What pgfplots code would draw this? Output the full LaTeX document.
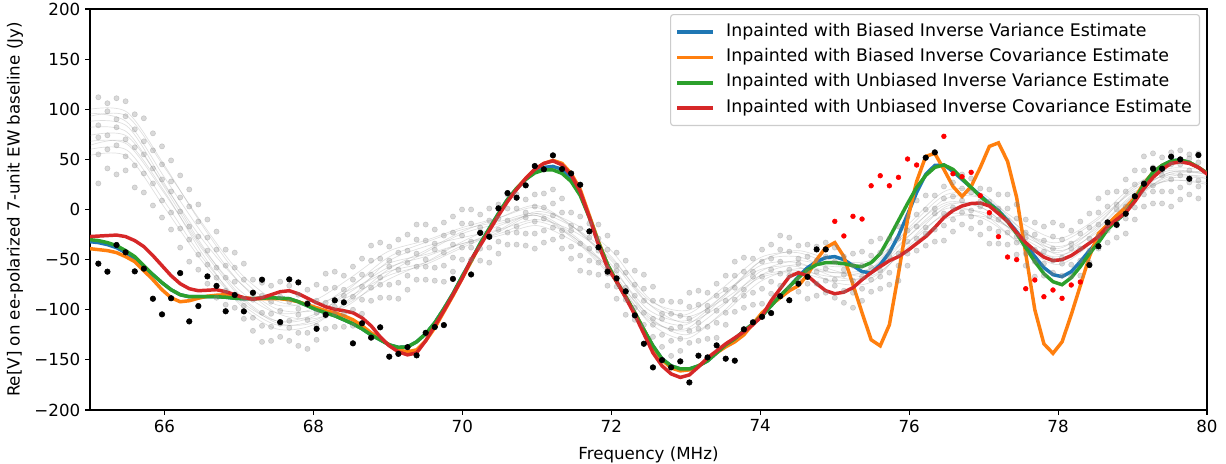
\documentclass[border=0pt]{standalone}
\usepackage{fontspec}
\setmainfont{DejaVu Sans}
\usepackage{pgfplots}
\usepackage{pgfplotstable}
\pgfplotsset{compat=1.18}

\definecolor{tabblue}{HTML}{1F77B4}
\definecolor{taborange}{HTML}{FF7F0E}
\definecolor{tabgreen}{HTML}{2CA02C}
\definecolor{tabred}{HTML}{D62728}
\definecolor{legframe}{HTML}{CCCCCC}

% Per-channel data: measured visibilities (dat), flagged channels (flag),
% the four inpainted solutions and five sets of model draws (g1..g5)
\pgfplotstableread{
f dat flag biv bic uiv uic g1 g2 g3 g4 g5
64.990 -17 nan -32 -39 -30 -27 110 96 80 58 48
65.112 -54 nan -33 -40 -31 -26.5 112 84 72 55 26
65.234 -62 nan -35 -41 -33 -26 106 98 74 60 41
65.356 -35.4 nan -38 -43 -36 -25.5 111 90 82 64 35
65.478 -42.7 nan -43 -47 -41 -27 108 93 70 53 39
65.601 -61.7 nan -49 -52 -47 -31 95 80 62 44 22
65.723 -59 nan -57 -61 -56 -37 91 68 55 36 17
65.845 -89 nan -65 -70 -65 -46 76 59 41 26 4
65.967 -104.6 nan -73 -80 -73 -56 63 45 30 9 -8
66.089 -88.5 nan -80 -88 -80 -66 49 28 18 -3 -20
66.211 -63.4 nan -85 -92 -85 -74 34 12 -2 -19 -38
66.333 -111.6 nan -87 -91 -87 -79 20 3 -17 -30 -52
66.455 -96.3 nan -87 -88.5 -87 -81 5 -12 -27 -45 -60
66.577 -66.7 nan -87 -86.5 -87 -80.5 -10 -28 -41 -55 -74
66.699 -76.2 nan -87 -85.5 -87 -80 -22 -40 -58 -68 -88
66.822 -101.5 nan -87.5 -85 -87.5 -82 -40 -56 -68 -81 -95
66.944 -85.3 nan -88.5 -86.5 -88.5 -85 -58 -72 -85 -98 -43
67.066 -101.6 nan -89 -88 -89 -88 -54 -70 -89 -109 -96
67.188 -83 nan -89 -89 -89 -89.5 -84 -108 -70 -121 -90
67.310 -70 nan -88.5 -89 -88.5 -88 -73 -103 -86 -116 -132
67.432 nan nan -88 -89 -88 -85 -76 -92 -104 -117 -131
67.554 -112.3 nan -88.5 -89 -88.5 -82 -87 -101 -114 -127 -72
67.676 -69.7 nan -89 -90 -89 -81 -76 -92 -111 -131 -118
67.798 -72.7 nan -92 -92 -92 -84 -99 -123 -85 -136 -105
67.920 -94 nan -96 -95 -96 -88.5 -80 -110 -93 -123 -139
68.043 -119 nan -100 -98 -100 -93 -75 -91 -103 -116 -130
68.165 -105 nan -103 -101 -103 -97 -79 -93 -106 -119 -64
68.287 -90.6 nan -106 -103 -106 -99.5 -62 -78 -97 -117 -104
68.409 -92.6 nan -110 -106 -110 -101 -80 -104 -66 -117 -86
68.531 -133.5 nan -114 -110 -114 -103 -57 -87 -70 -100 -116
68.653 -113.5 nan -119 -116 -119 -108 -49 -65 -77 -90 -104
68.775 -127.8 nan -125 -123 -125 -116 -51 -65 -78 -91 -36
68.897 -117.5 nan -130 -129 -130 -127 -33 -49 -68 -88 -75
69.019 -146.8 nan -135 -135 -135 -136 -51 -75 -37 -88 -57
69.141 -144 nan -137.5 -140 -137.5 -142 -30 -60 -43 -73 -89
69.264 -137.3 nan -137 -142 -137 -145 -25 -41 -53 -66 -80
69.386 -145.5 nan -132 -140 -132 -143 -30 -44 -57 -70 -15
69.508 -123 nan -124 -131 -124 -131 -15 -31 -50 -70 -57
69.630 -117.2 nan -113 -118 -113 -116 -34 -58 -20 -71 -40
69.752 -115.3 nan -99 -102 -99 -101 -13 -43 -26 -56 -72
69.874 -69.2 nan -84 -86 -84 -85 -7 -23 -35 -48 -62
69.996 nan nan -67 -69 -67 -69 -14 -26 -38 -50 0
70.118 -64.8 nan -51 -52 -51 -50 0 -14 -32 -50 -38
70.240 -23.3 nan -34 -35 -34 -36 -18 -39 -5 -51 -23
70.362 -27.2 nan -19 -20 -19 -21 1 -26 -11 -38 -53
70.485 1.2 nan -4 -5 -4 -6 5 -9 -20 -32 -44
70.607 16.4 nan 10 9 10 8 1 -11 -23 -35 15
70.729 11.8 nan 21 21 21 20 15 1 -17 -35 -23
70.851 24.1 nan 30 31 30 31 -3 -24 10 -36 -8
70.973 43.4 nan 38 40 36.5 40 15 -12 3 -24 -39
71.095 40.1 nan 42 46 39.5 46 16 2 -9 -21 -33
71.217 54 nan 43 49 39.5 48.5 6 -6 -18 -30 20
71.339 40.4 nan 40 46 36 44.5 11 -3 -21 -39 -27
71.461 36 nan 31 36 28 34.5 -16 -37 -3 -49 -21
71.583 24.7 nan 16 20 14 18 -7 -34 -19 -46 -61
71.706 -21.8 nan -7 -6 -8 -8 -14 -28 -39 -51 -63
71.828 -37.7 nan -33 -32 -33 -35 -29 -41 -53 -65 -15
71.950 -62 nan -55 -55 -55 -58 -26 -40 -58 -76 -64
72.072 -68.7 nan -72 -72 -72 -72 -56 -77 -43 -89 -61
72.194 -81.6 nan -87 -87 -87 -88 -51 -78 -63 -90 -105
72.316 -105.6 nan -103 -103 -103 -105 -61 -75 -86 -98 -110
72.438 -133.9 nan -120 -120 -120 -124 -79 -91 -103 -115 -65
72.560 -157.5 nan -136 -137 -136 -143 -77 -91 -109 -127 -115
72.682 -150.2 nan -149 -150 -149 -156 -104 -125 -91 -137 -109
72.804 -157.5 nan -156 -158 -156 -164 -92 -119 -104 -131 -146
72.927 -151.5 nan -159 -161 -159 -167.5 -92 -106 -117 -129 -141
73.049 -172.5 nan -159 -160 -159 -165 -97 -109 -121 -133 -83
73.171 -145.8 nan -156 -156 -156 -157 -81 -95 -113 -131 -119
73.293 -147.5 nan -151 -150 -151 -148 -96 -117 -83 -129 -101
73.415 -135.5 nan -143 -143 -143 -141 -74 -101 -86 -113 -128
73.537 -148.8 nan -135 -137 -135 -134 -66 -80 -91 -103 -115
73.659 -150.8 nan -129 -132 -129 -128 -66 -78 -90 -102 -52
73.781 -119.5 nan -121 -125 -121 -122 -48 -62 -80 -98 -86
73.903 -112.5 nan -114 -114 -114 -115 -62 -83 -49 -95 -67
74.025 -107 nan -106 -103 -106 -106 -40 -67 -52 -79 -94
74.147 -103.3 nan -96 -95 -96 -91 -35 -49 -60 -72 -84
74.269 -86.5 nan -86 -88 -86 -79 -40 -52 -64 -76 -26
74.391 -90.5 nan -77 -81 -77 -67 -28 -42 -60 -78 -66
74.514 -74 nan -67 -76 -68 -63 -49 -70 -36 -82 -54
74.636 -67.2 nan -58 -65 -60 -66 -35 -62 -47 -74 -89
74.758 -39.8 nan -52 -50 -55 -74 -37 -51 -62 -74 -86
74.880 -39.8 nan -48 -38 -53 -81 -47 -59 -71 -83 -33
75.002 nan -11.8 -47 -33 -53 -84 -38 -52 -70 -88 -76
75.124 nan -26.4 -50 -47 -54 -82.5 -60 -81 -47 -93 -65
75.246 nan -6.8 -56 -75 -56 -78 -44 -71 -56 -83 -98
75.368 nan -9.5 -62 -103 -57 -70 -42 -56 -67 -79 -91
75.490 nan 23.7 -63 -130 -53 -63 -46 -58 -70 -82 -32
75.612 nan 33.7 -55 -136 -44 -57 -29 -43 -61 -79 -67
75.735 nan 23.7 -43 -115 -28 -51 -42 -63 -29 -75 -47
75.857 nan 32.1 -26 -64 -11 -47 -17 -44 -29 -56 -71
75.979 nan 50.4 -5 -10 6 -41 -7 -21 -32 -44 -56
76.101 nan 44.4 17 28 22 -34 -5 -17 -29 -41 9
76.223 51.7 nan 35 53 34 -27 14 0 -18 -36 -24
76.345 57 nan 44 56 42 -18 1 -20 14 -32 -4
76.467 nan 73 44.5 40 44.5 -8 23 -4 11 -16 -31
76.589 nan 35.7 38 23 40 -1 27 13 2 -10 -22
76.711 nan 32.7 30 13 31 3.5 21 9 -3 -15 35
76.833 nan 37.1 22 23 22 6 31 17 -1 -19 -7
76.956 nan 13.8 14 42 13 6.5 8 -13 21 -25 3
77.078 nan -3.2 6 63 5.5 3.5 20 -7 8 -19 -34
77.200 nan -27.1 -1 66.5 -2 -4 15 1 -10 -22 -34
77.322 nan -47.4 -11 48 -12 -12 1 -11 -23 -35 15
77.444 nan -50 -22 12 -24 -23 5 -9 -27 -45 -33
77.566 nan -79 -35 -44 -38 -33 -23 -44 -10 -56 -28
77.688 nan -70.3 -47 -100 -52 -41 -13 -40 -25 -52 -67
77.810 nan -87 -58 -134 -64 -47.5 -17 -31 -42 -54 -66
77.932 nan -80.3 -65 -143.5 -72 -51 -27 -39 -51 -63 -13
78.054 nan -88.6 -67 -132 -75 -50 -16 -30 -48 -66 -54
78.177 nan -75.3 -62 -105 -68 -46 -34 -55 -21 -67 -39
78.299 nan -72.3 -52 -76 -57 -40 -12 -39 -24 -51 -66
78.421 -55.4 nan -41 -47 -44 -33.5 -4 -18 -29 -41 -53
78.543 -36.7 nan -31 -24 -33 -27 -3 -15 -27 -39 11
78.665 -12.8 nan -19 -15 -20 -17 17 3 -15 -33 -21
78.787 -15.2 nan -11 -6 -11 -10 5 -16 18 -28 0
78.909 -4.2 nan -3 2 -3 -3 30 3 18 -9 -24
79.031 13.2 nan 10 12 10 8 39 25 14 2 -10
79.153 25.7 nan 25 26 25 21 39 27 15 3 53
79.275 40.7 nan 37 37 37 32 56 42 24 6 18
79.397 40.7 nan 44 44 44 40 39 18 52 6 34
79.519 52.7 nan 48.5 48 48.5 46 57 30 45 18 3
79.641 50 nan 49.5 49 49.5 47.5 59 45 34 22 10
79.763 30.7 nan 47 47 47 46 51 39 27 15 55
79.885 54.3 nan 42 42 42 42 56 47 29 11 23
80.007 46.7 nan 36 36 36 35 39 18 52 6 34
}\chan

% Smooth model curves for the other baselines, sampled every 0.5 MHz
\pgfplotstableread{
f c1 c2 c3 c4 c5 c6 c7 c8 c9 c10
65.0 100 93 88 82 74 68 60 54 96 64
65.5 97 93 83 77 73 65 59 53 87 67
66.0 44 42 26 22 24 16 8 2 32 18
66.5 -15 -13 -35 -37 -29 -39 -47 -51 -23 -43
67.0 -66 -62 -84 -80 -72 -86 -90 -92 -72 -94
67.5 -95 -91 -111 -103 -99 -113 -111 -115 -103 -119
68.0 -91 -95 -107 -99 -101 -113 -105 -111 -109 -115
68.5 -68 -80 -78 -76 -86 -90 -82 -92 -94 -88
69.0 -42 -62 -48 -54 -66 -60 -58 -70 -64 -52
69.5 -31 -53 -33 -45 -55 -41 -47 -53 -43 -37
70.0 -18 -36 -20 -34 -38 -22 -34 -32 -24 -28
70.5 -8 -20 -12 -26 -22 -8 -24 -16 -14 -20
71.0 2 -2 -4 -16 -4 4 -12 -6 -6 -10
71.5 -18 -14 -26 -32 -18 -18 -28 -28 -30 -22
72.0 -51 -41 -61 -59 -47 -55 -63 -65 -67 -49
72.5 -94 -88 -108 -100 -94 -106 -112 -104 -110 -90
73.0 -105 -107 -121 -111 -113 -125 -129 -115 -119 -101
73.5 -78 -90 -96 -86 -94 -104 -102 -86 -88 -82
74.0 -48 -66 -62 -56 -68 -72 -66 -52 -52 -60
74.5 -43 -61 -51 -53 -63 -59 -55 -47 -41 -57
75.0 -55 -67 -57 -67 -71 -63 -63 -61 -51 -73
75.5 -54 -58 -52 -68 -64 -58 -62 -66 -50 -72
76.0 -22 -18 -20 -36 -26 -26 -32 -38 -14 -32
76.5 11 15 7 -3 5 1 -5 -9 19 3
77.0 11 11 1 -3 1 -5 -9 -7 15 5
77.5 -13 -19 -27 -25 -29 -35 -33 -23 -19 -21
78.0 -29 -41 -43 -39 -49 -55 -47 -33 -45 -37
78.5 -10 -24 -18 -16 -30 -30 -22 -12 -28 -20
79.0 23 11 21 19 9 13 13 17 9 15
79.5 41 33 39 35 31 37 29 29 35 37
80.0 39 33 35 31 31 37 25 27 37 35
}\models

\begin{document}
\begin{tikzpicture}
\begin{axis}[
  name=ax,
  scale only axis,
  width=804.2pt, height=288.7pt,
  xmin=65, xmax=80, ymin=-200, ymax=200,
  xtick={66,68,70,72,74,76,78,80},
  xticklabels={66,68,70,72,74,76,78,80},
  ytick={-200,-150,-100,-50,0,50,100,150,200},
  yticklabels={−200,−150,−100,−50,0,50,100,150,200},
  tick align=outside, tick pos=left,
  major tick length=3.5pt,
  tick style={black, line width=0.8pt},
  axis line style={line width=0.8pt},
  ticklabel style={font=\fontsize{12}{14}\selectfont},
  every axis x label/.style={at={(axis description cs:0.5,0)}, anchor=center, yshift=-32.5pt},
  every axis y label/.style={at={(axis description cs:-0.0672,0.5)}, anchor=center, rotate=90},
  label style={font=\fontsize{12}{14}\selectfont},
  xlabel={Frequency (MHz)},
  ylabel={Re[V] on ee-polarized 7-unit EW baseline (Jy)},
  legend cell align=left,
  legend image code/.code={\draw[#1] (0pt,0pt) -- (26pt,0pt);},
  legend style={
    at={(rel axis cs:1,1)}, anchor=north east, xshift=-5pt, yshift=-3.6pt,
    draw=legframe, line width=0.8pt, rounded corners=2pt,
    fill=white, fill opacity=0.8, text opacity=1, draw opacity=1,
    font=\fontsize{12.5}{15}\selectfont,
    inner xsep=3.5pt, inner ysep=5.5pt, row sep=4.3pt,
    /tikz/every odd column/.append style={column sep=6pt},
    nodes={inner xsep=2pt, inner ysep=1pt, text height=9pt, text depth=3pt},
  },
]
% model curves of the other baselines
\pgfplotsinvokeforeach{c1,c2,c3,c4,c5,c6,c7,c8,c9,c10}{
  \addplot[gray, opacity=0.25, line width=0.5pt, smooth, forget plot] table[x=f, y=#1]{\models};
}
% model draws at each channel
\pgfplotsinvokeforeach{g1,g2,g3,g4,g5}{
  \addplot[only marks, mark=*, mark size=1.9pt, color=gray, opacity=0.3, forget plot]
    table[x=f, y=#1]{\chan};
}
% inpainted solutions
\addplot[tabblue, line width=2.5pt] table[x=f, y=biv]{\chan};
\addlegendentry{Inpainted with Biased Inverse Variance Estimate}
\addplot[taborange, line width=2.5pt] table[x=f, y=bic]{\chan};
\addlegendentry{Inpainted with Biased Inverse Covariance Estimate}
\addplot[tabgreen, line width=2.5pt] table[x=f, y=uiv]{\chan};
\addlegendentry{Inpainted with Unbiased Inverse Variance Estimate}
\addplot[tabred, line width=2.5pt] table[x=f, y=uic]{\chan};
\addlegendentry{Inpainted with Unbiased Inverse Covariance Estimate}
% measured and flagged channels
\addplot[only marks, mark=*, mark size=2pt, color=black, forget plot]
  table[x=f, y=dat]{\chan};
\addplot[only marks, mark=*, mark size=1.7pt, color=red, forget plot]
  table[x=f, y=flag]{\chan};
\end{axis}
\pgfresetboundingbox
\path[use as bounding box] ([xshift=-64.8pt, yshift=-38.2pt]ax.south west) rectangle ([xshift=13.7pt, yshift=6.5pt]ax.north east);
\end{tikzpicture}
\end{document}
